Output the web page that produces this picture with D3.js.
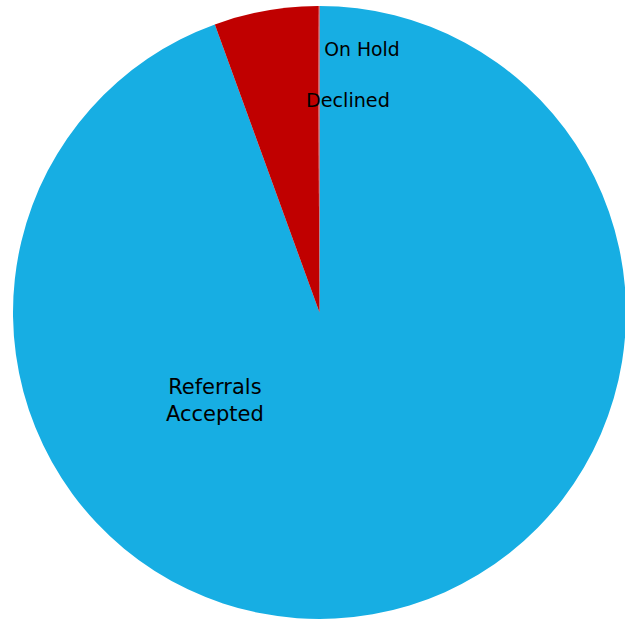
<!DOCTYPE html>
<html>
<head>
<meta charset="utf-8">
<script src="https://cdn.jsdelivr.net/npm/d3@7"></script>
<style>
  html, body { margin: 0; padding: 0; background: #fff; }
  svg { display: block; }
  text { font-family: "DejaVu Sans", sans-serif; fill: #000; }
</style>
</head>
<body>
<div id="chart"></div>
<script>
// Referral outcomes (counts)
const categories = ["Referrals Accepted", "Declined", "On Hold"];
const values = [1209, 70, 1];
const colors = ["#17AEE3", "#C00000", "#D0383B"];
// label lines, plus polar placement (degrees clockwise from 12 o'clock, fraction of radius)
const labelLines = [["Referrals", "Accepted"], ["Declined"], ["On Hold"]];
const labelAngle = [230.1, 7.6, 9.2];
const labelRadius = [0.445, 0.70, 0.868];
const labelSize = [21, 19.2, 18.8];

const W = 625, H = 625;
const cx = 319.5, cy = 312.5, R = 306.5;

const svg = d3.select("#chart").append("svg")
  .attr("width", W).attr("height", H);

const data = categories.map((c, i) => ({ name: c, value: values[i], i }));

const pie = d3.pie().value(d => d.value).sort(null);
const arc = d3.arc().innerRadius(0).outerRadius(R);

const g = svg.append("g").attr("transform", `translate(${cx},${cy})`);

g.selectAll("path.slice")
  .data(pie(data))
  .join("path")
  .attr("class", "slice")
  .attr("d", arc)
  .attr("fill", d => colors[d.data.i]);

const lineH = 27;
data.forEach((d, i) => {
  const a = labelAngle[i] * Math.PI / 180;
  const r = labelRadius[i] * R;
  const x = Math.sin(a) * r, y = -Math.cos(a) * r;
  const lines = labelLines[i];
  const t = g.append("text")
    .attr("text-anchor", "middle")
    .attr("font-size", labelSize[i]);
  lines.forEach((ln, k) => {
    t.append("tspan")
      .attr("x", x)
      .attr("y", y + (k - (lines.length - 1) / 2) * lineH)
      .attr("dy", "0.35em")
      .text(ln);
  });
});
</script>
</body>
</html>
